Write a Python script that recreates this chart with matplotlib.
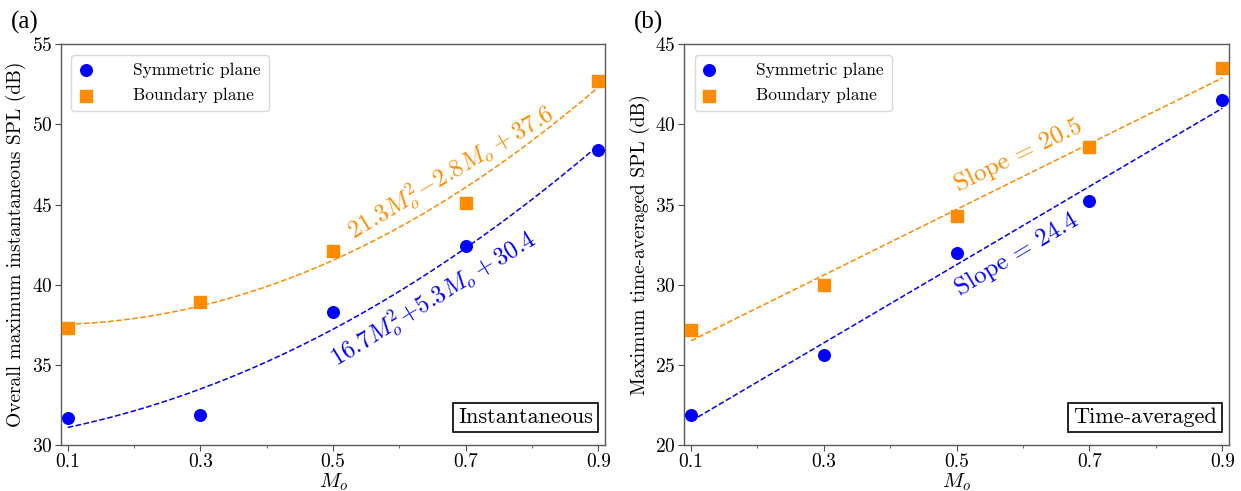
import numpy as np
import matplotlib
matplotlib.use("Agg")
import matplotlib.pyplot as plt

plt.rcParams["font.family"] = "serif"
plt.rcParams["font.serif"] = ["cmr10"]
plt.rcParams["mathtext.fontset"] = "cm"
plt.rcParams["axes.formatter.use_mathtext"] = True
plt.rcParams["axes.unicode_minus"] = False

# Mach numbers
mach = [0.1, 0.3, 0.5, 0.7, 0.9]

# Instantaneous SPL (dB)
inst_sym = [31.7, 31.9, 38.3, 42.4, 48.4]
inst_bnd = [37.3, 38.9, 42.1, 45.1, 52.7]
# quadratic fit coefficients (a, b, c) for a*M^2 + b*M + c
inst_sym_fit = [16.7, 5.3, 30.4]
inst_bnd_fit = [21.3, -2.8, 37.6]

# Time-averaged SPL (dB)
avg_sym = [21.9, 25.6, 32.0, 35.2, 41.5]
avg_bnd = [27.2, 30.0, 34.3, 38.6, 43.5]
# linear fit (slope, intercept)
avg_sym_fit = [24.4, 19.05]
avg_bnd_fit = [20.5, 24.45]

BLUE = "#0000ff"
ORANGE = "#ff8c00"

fig = plt.figure(figsize=(12.41, 4.91), dpi=100)
ax1 = fig.add_axes([0.0492, 0.0937, 0.4384, 0.8161])
ax2 = fig.add_axes([0.5514, 0.0937, 0.4389, 0.8161])

mfine = np.linspace(0.1, 0.9, 200)


def style_axes(ax, ylim, yticks):
    ax.set_xlim(0.09, 0.91)
    ax.set_ylim(*ylim)
    ax.set_xticks(mach)
    ax.set_xticklabels([f"{m:.1f}" for m in mach])
    ax.set_xticks([0.2, 0.4, 0.6, 0.8], minor=True)
    ax.set_yticks(yticks)
    ax.tick_params(axis="both", which="major", labelsize=14, length=4,
                   direction="out", color="0.3", pad=2)
    ax.tick_params(axis="both", which="minor", length=2.5, color="0.3")
    for s in ax.spines.values():
        s.set_color("0.35")
        s.set_linewidth(1.0)
    ax.set_xlabel(r"$M_o$", fontsize=15, labelpad=0)


def legend(ax):
    ax.legend(loc="upper left", fontsize=12.5, frameon=True, fancybox=True,
              framealpha=1.0, edgecolor="0.85", borderpad=0.45,
              handlelength=0.8, handletextpad=2.3, labelspacing=0.55,
              borderaxespad=0.6, scatterpoints=1)


def boxed(ax, label):
    ax.text(0.978, 0.045, label, transform=ax.transAxes, fontsize=16,
            ha="right", va="bottom",
            bbox=dict(boxstyle="square,pad=0.22", fc="white", ec="black",
                      lw=1.2))


# (a) instantaneous
a, b, c = inst_sym_fit
ax1.plot(mfine, a * mfine**2 + b * mfine + c, "--", color=BLUE, lw=1.1)
a, b, c = inst_bnd_fit
ax1.plot(mfine, a * mfine**2 + b * mfine + c, "--", color=ORANGE, lw=1.1)
ax1.scatter(mach, inst_sym, s=70, marker="o", color=BLUE, zorder=3,
            label="Symmetric plane")
ax1.scatter(mach, inst_bnd, s=65, marker="s", color=ORANGE, zorder=3,
            label="Boundary plane")
style_axes(ax1, (30, 55), [30, 35, 40, 45, 50, 55])
ax1.set_ylabel("Overall maximum instantaneous SPL (dB)", fontsize=14,
               labelpad=4)
legend(ax1)
ax1.text(0.684, 46.6, r"$21.3M_o^2\!-\!2.8M_o+37.6$", color=ORANGE,
         fontsize=17.5, rotation=31, ha="center", va="baseline",
         rotation_mode="anchor")
ax1.text(0.658, 38.74, r"$16.7M_o^2\!+\!5.3M_o+30.4$", color=BLUE,
         fontsize=17.5, rotation=31.5, ha="center", va="baseline",
         rotation_mode="anchor")
boxed(ax1, "Instantaneous")

# (b) time-averaged
k, q = avg_sym_fit
ax2.plot(mfine, k * mfine + q, "--", color=BLUE, lw=1.1)
k, q = avg_bnd_fit
ax2.plot(mfine, k * mfine + q, "--", color=ORANGE, lw=1.1)
ax2.scatter(mach, avg_sym, s=70, marker="o", color=BLUE, zorder=3,
            label="Symmetric plane")
ax2.scatter(mach, avg_bnd, s=65, marker="s", color=ORANGE, zorder=3,
            label="Boundary plane")
style_axes(ax2, (20, 45), [20, 25, 30, 35, 40, 45])
ax2.set_ylabel("Maximum time-averaged SPL (dB)", fontsize=14, labelpad=4)
legend(ax2)
ax2.text(0.598, 37.72, f"Slope = {avg_bnd_fit[0]}", color=ORANGE,
         fontsize=18, rotation=26, ha="center", va="baseline",
         rotation_mode="anchor")
ax2.text(0.595, 31.54, f"Slope = {avg_sym_fit[0]}", color=BLUE,
         fontsize=18, rotation=31, ha="center", va="baseline",
         rotation_mode="anchor")
boxed(ax2, "Time-averaged")

fig.text(0.0085, 0.955, "(a)", fontsize=18, family="Liberation Serif",
         ha="left", va="center")
fig.text(0.511, 0.955, "(b)", fontsize=18, family="Liberation Serif",
         ha="left", va="center")

fig.savefig("out.png", dpi=100)
